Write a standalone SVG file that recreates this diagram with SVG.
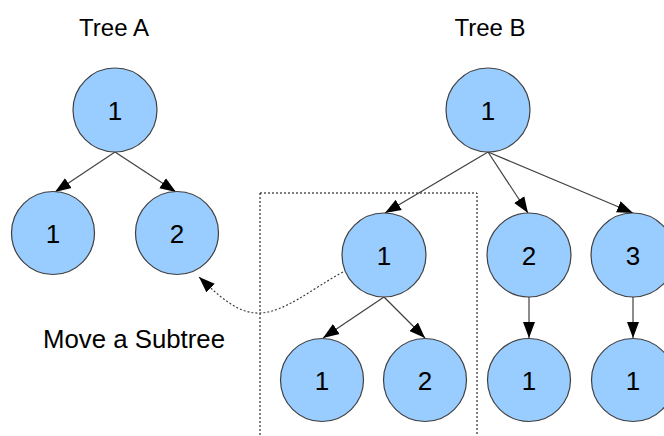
<svg xmlns="http://www.w3.org/2000/svg" width="664" height="436" viewBox="0 0 664 436">
<style>
.node circle{fill:#99ccff;stroke:#404040;stroke-width:1.2}
.node text,.lbl{font-family:"Liberation Sans",Arial,sans-serif;fill:#000}
.node text{text-anchor:middle;font-size:26px}
.lbl{font-size:24px}
.edge{fill:none;stroke:#404040;stroke-width:1.2;marker-end:url(#arr)}
</style>
<defs>
<marker id="arr" markerUnits="userSpaceOnUse" markerWidth="17" markerHeight="13" refX="16" refY="6.5" orient="auto" viewBox="0 0 17 13">
<path d="M0,0.5 L16,6.5 L0,12.5 z" fill="#000"/>
</marker>
</defs>
<rect x="0" y="0" width="664" height="436" fill="#fff"/>
<text class="lbl" x="114" y="36" text-anchor="middle">Tree A</text>
<text class="lbl" x="490" y="36" text-anchor="middle">Tree B</text>
<text class="lbl" x="43" y="348" style="font-size:25px" textLength="182" lengthAdjust="spacingAndGlyphs">Move a Subtree</text>
<rect id="subtree-box" x="260" y="193" width="217" height="260" fill="none" stroke="#000" stroke-width="1" stroke-dasharray="2,2"/>
<g id="connectors">
<path class="edge" d="M115,152 L55,192"/>
<path class="edge" d="M115,152 L176,192"/>
<path class="edge" d="M488,152 L385,213"/>
<path class="edge" d="M488,152 L528,213"/>
<path class="edge" d="M488,152 L633,213"/>
<path class="edge" d="M529,297 L529,338"/>
<path class="edge" d="M633,297 L633,338"/>
<path class="edge" d="M384,297 L323,338"/>
<path class="edge" d="M384,297 L425,338"/>
<path class="edge" d="M343,272 C310,290 285,312 260,313 C238,314 220,297 199,277" stroke="#555" stroke-dasharray="2,2"/>
</g>
<g id="a-root" class="node"><circle cx="115" cy="110" r="42"/><text x="115" y="119.5">1</text></g>
<g id="a-1" class="node"><circle cx="53" cy="233" r="41.5"/><text x="53" y="242.5">1</text></g>
<g id="a-2" class="node"><circle cx="177" cy="233" r="41.5"/><text x="177" y="242.5">2</text></g>
<g id="b-root" class="node"><circle cx="488" cy="110" r="42"/><text x="488" y="119.5">1</text></g>
<g id="b-1" class="node"><circle cx="384" cy="255" r="42"/><text x="384" y="264.5">1</text></g>
<g id="b-2" class="node"><circle cx="529" cy="255" r="42"/><text x="529" y="264.5">2</text></g>
<g id="b-3" class="node"><circle cx="633" cy="255" r="42"/><text x="633" y="264.5">3</text></g>
<g id="b-1-1" class="node"><circle cx="322" cy="380" r="41.5"/><text x="322" y="389.5">1</text></g>
<g id="b-1-2" class="node"><circle cx="425" cy="380" r="41.5"/><text x="425" y="389.5">2</text></g>
<g id="b-2-1" class="node"><circle cx="529" cy="380" r="41.5"/><text x="529" y="389.5">1</text></g>
<g id="b-3-1" class="node"><circle cx="633" cy="380" r="41.5"/><text x="633" y="389.5">1</text></g>
</svg>
